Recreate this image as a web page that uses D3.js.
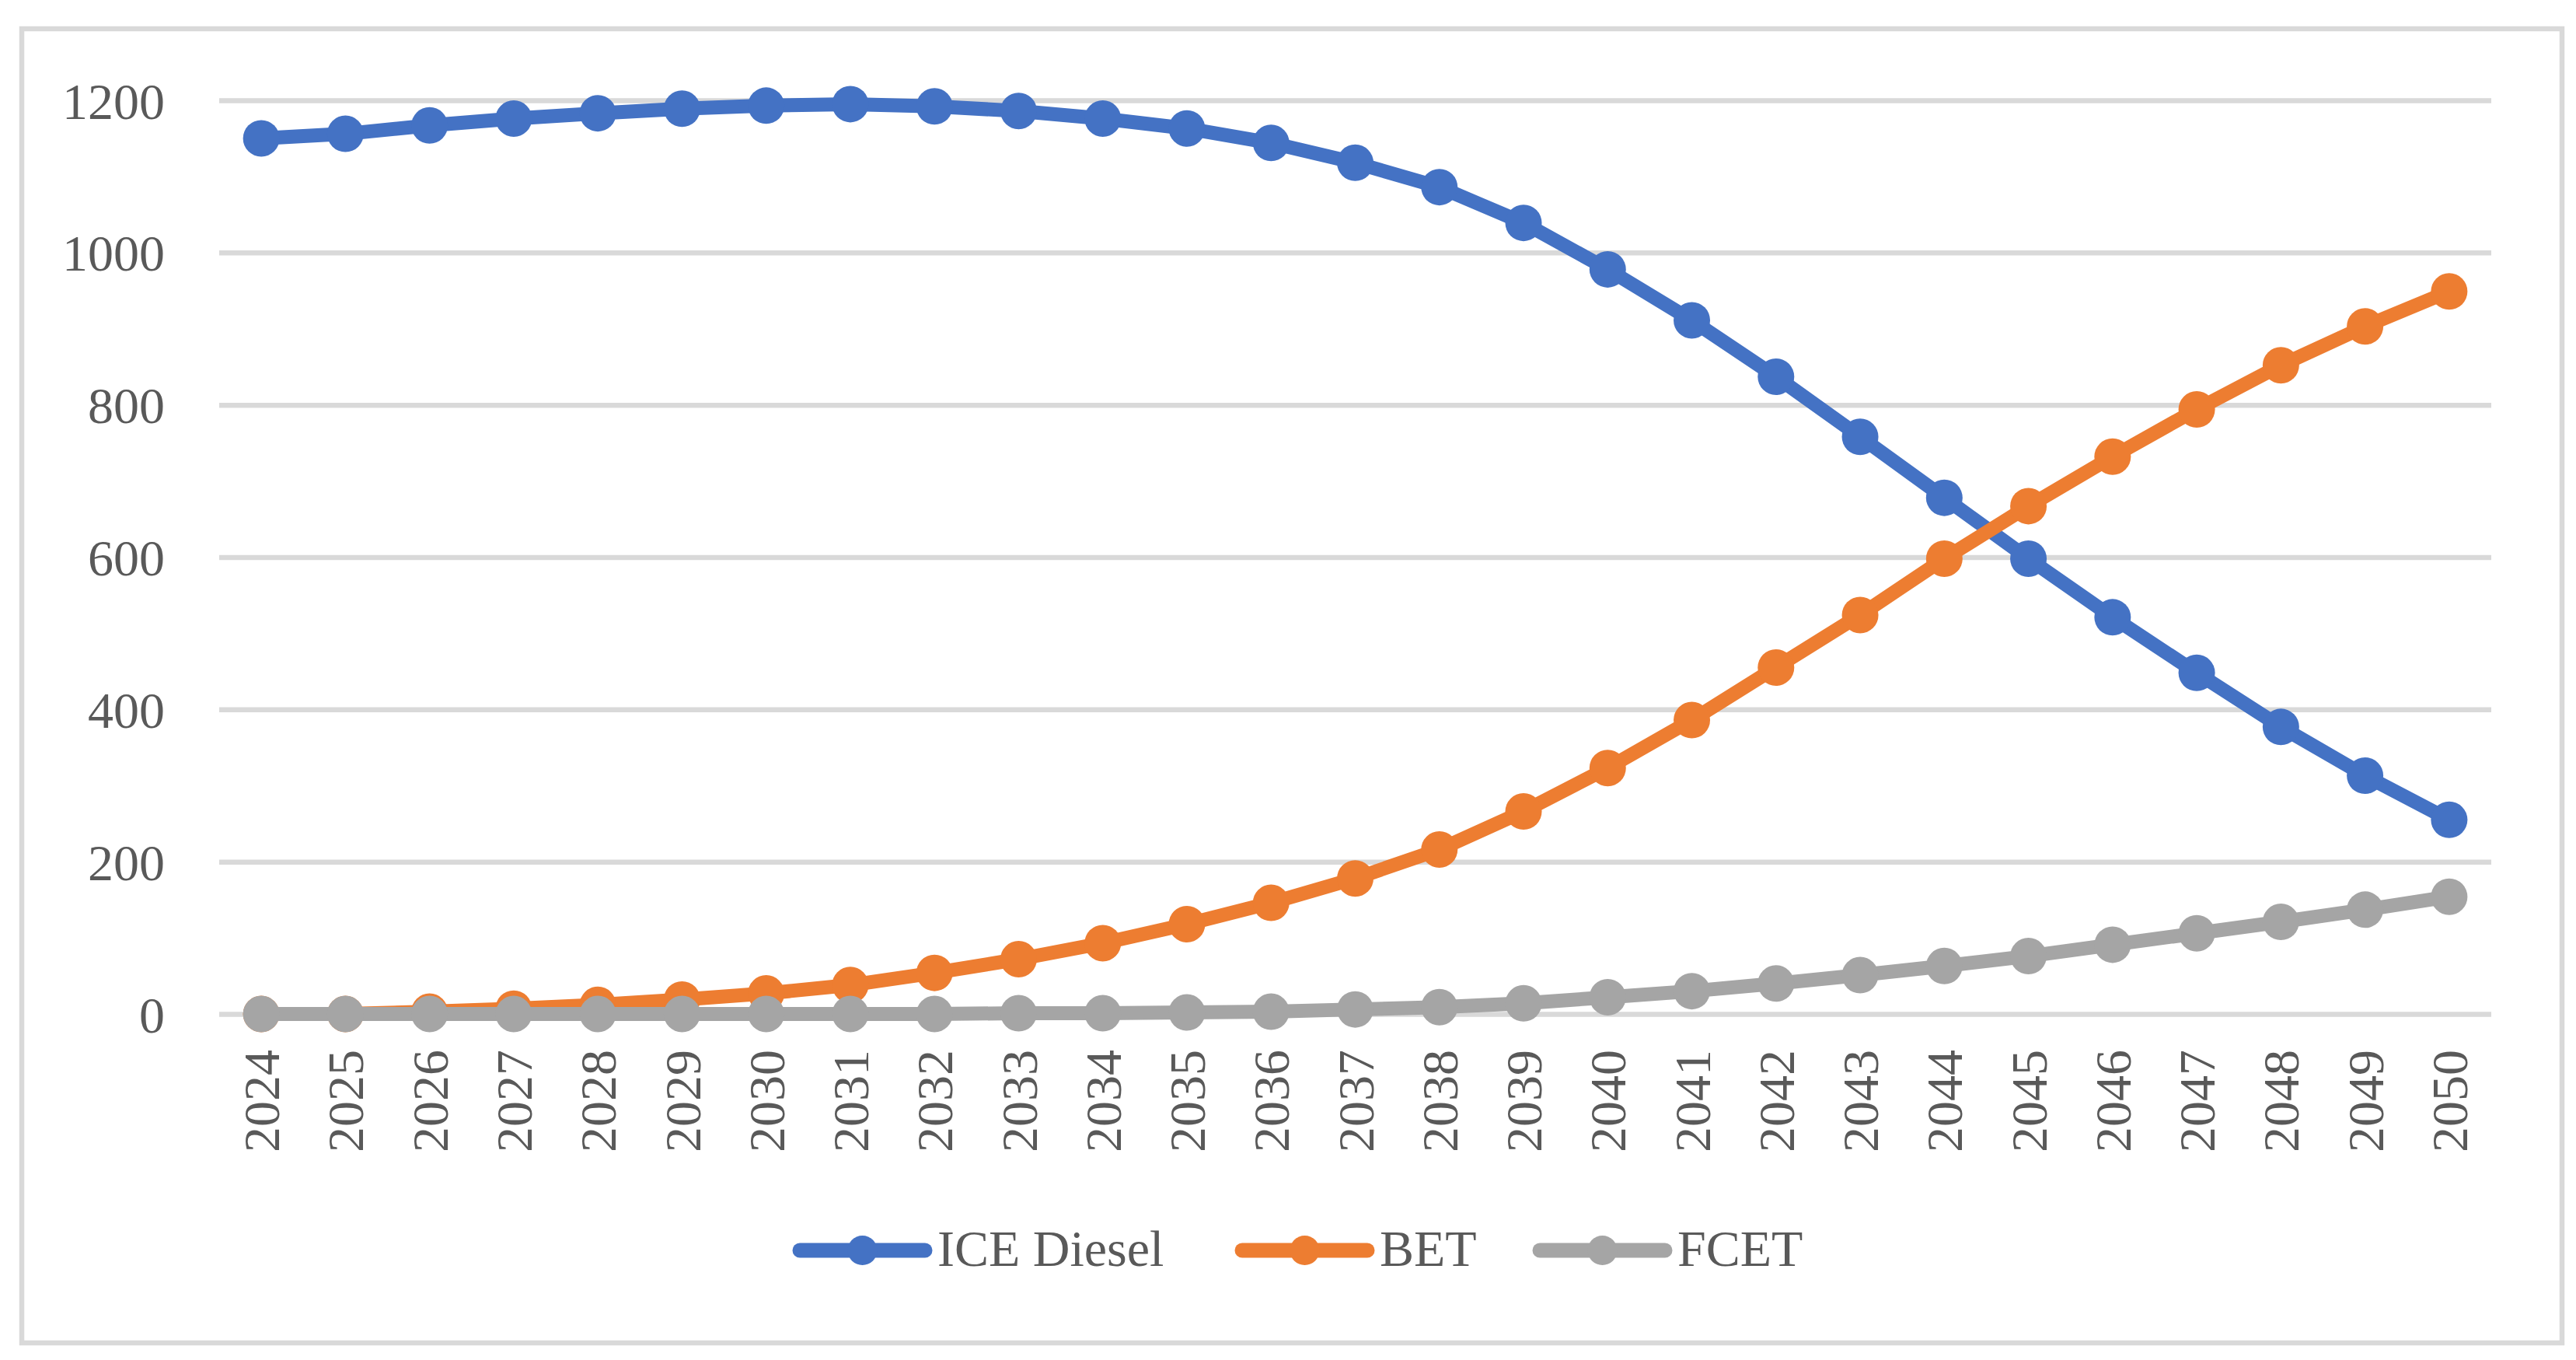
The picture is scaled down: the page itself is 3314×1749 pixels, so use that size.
<!DOCTYPE html>
<html>
<head>
    <meta charset="utf-8">
    <script src="https://d3js.org/d3.v7.min.js"></script>
    <style>
        body { margin: 0; background: #ffffff; }
        text { font-family: "Palatino Linotype", "Book Antiqua", Palatino, "Liberation Serif", serif; fill: #595959; }
        .axis path { display: none; }
        .grid line { stroke: #d9d9d9; stroke-width: 6.5; }
    </style>
</head>
<body>
<script>
    // Categories and series values
    var years = ["2024", "2025", "2026", "2027", "2028", "2029", "2030", "2031", "2032",
                 "2033", "2034", "2035", "2036", "2037", "2038", "2039", "2040", "2041",
                 "2042", "2043", "2044", "2045", "2046", "2047", "2048", "2049", "2050"];
    var iceDiesel = [1150, 1156, 1167, 1176, 1183, 1189, 1193, 1195, 1192, 1186, 1176, 1163, 1144,
                     1118, 1086, 1039, 978, 911, 837, 758, 678, 598, 521, 448, 377, 313, 255];
    var bet = [0, 0, 3, 7, 12, 19, 27, 38, 54, 72, 93, 118, 146, 178, 216, 266, 323, 386,
               455, 524, 598, 667, 732, 794, 852, 903, 949];
    var fcet = [0, 0, 0, 0, 0, 0, 0, 0, 0, 1, 1, 2, 3, 6, 9, 14, 22, 30, 40, 51, 63, 76,
                91, 106, 121, 137, 154];
    var seriesNames = ["ICE Diesel", "BET", "FCET"];
    var seriesColors = ["#4472c4", "#ed7d31", "#a5a5a5"];
    var yTicks = [0, 200, 400, 600, 800, 1000, 1200];

    var W = 3314, H = 1749;
    var plot = { left: 282, right: 3205, top: 129, bottom: 1304 };
    var fontSize = 66;

    var svg = d3.select("body").append("svg")
                .attr("width", W)
                .attr("height", H);

    // Outer chart border
    svg.append("rect")
       .attr("x", 28).attr("y", 37)
       .attr("width", 3268).attr("height", 1690)
       .attr("fill", "none")
       .attr("stroke", "#d9d9d9")
       .attr("stroke-width", 6.5);

    var x = d3.scaleBand().domain(years).range([plot.left, plot.right]);
    var y = d3.scaleLinear().domain([0, 1200]).range([plot.bottom, plot.top]);
    var cx = function(d) { return x(d) + x.bandwidth() / 2; };

    // y axis with gridlines
    var yAxis = svg.append("g")
       .attr("class", "axis grid")
       .attr("transform", "translate(" + plot.left + ",0)")
       .call(d3.axisLeft(y)
               .tickValues(yTicks)
               .tickFormat(d3.format("d"))
               .tickSize(-(plot.right - plot.left))
               .tickPadding(70));
    yAxis.selectAll("text")
       .attr("font-size", fontSize)
       .attr("dy", "0.35em");

    // x axis, rotated labels
    var xAxis = svg.append("g")
       .attr("class", "axis")
       .attr("transform", "translate(0," + plot.bottom + ")")
       .call(d3.axisBottom(x).tickSize(0));
    xAxis.selectAll("text")
       .attr("font-size", fontSize)
       .attr("transform", "rotate(-90)")
       .attr("text-anchor", "end")
       .attr("x", -46)
       .attr("y", 0)
       .attr("dy", "0.35em");

    // Lines and markers
    var allSeries = [iceDiesel, bet, fcet];
    var line = d3.line()
                 .x(function(d, i) { return cx(years[i]); })
                 .y(function(d) { return y(d); });

    allSeries.forEach(function(values, s) {
        svg.append("path")
           .datum(values)
           .attr("d", line)
           .attr("fill", "none")
           .attr("stroke", seriesColors[s])
           .attr("stroke-width", 18)
           .attr("stroke-linejoin", "round")
           .attr("stroke-linecap", "round");
        svg.append("g").selectAll("circle")
           .data(values)
           .enter().append("circle")
           .attr("cx", function(d, i) { return cx(years[i]); })
           .attr("cy", function(d) { return y(d); })
           .attr("r", 23.5)
           .attr("fill", seriesColors[s]);
    });

    // Legend (item start positions as in the reference layout)
    var legendY = 1608;
    var legendX = [1020, 1589, 1972];
    seriesNames.forEach(function(name, s) {
        var lx = legendX[s];
        var g = svg.append("g");
        g.append("line")
         .attr("x1", lx + 9).attr("x2", lx + 170)
         .attr("y1", legendY).attr("y2", legendY)
         .attr("stroke", seriesColors[s])
         .attr("stroke-width", 19)
         .attr("stroke-linecap", "round");
        g.append("circle")
         .attr("cx", lx + 89.5).attr("cy", legendY)
         .attr("r", 19)
         .attr("fill", seriesColors[s]);
        g.append("text")
         .attr("x", lx + 186)
         .attr("y", legendY + 20)
         .attr("font-size", fontSize)
         .text(name);
    });
</script>
</body>
</html>
